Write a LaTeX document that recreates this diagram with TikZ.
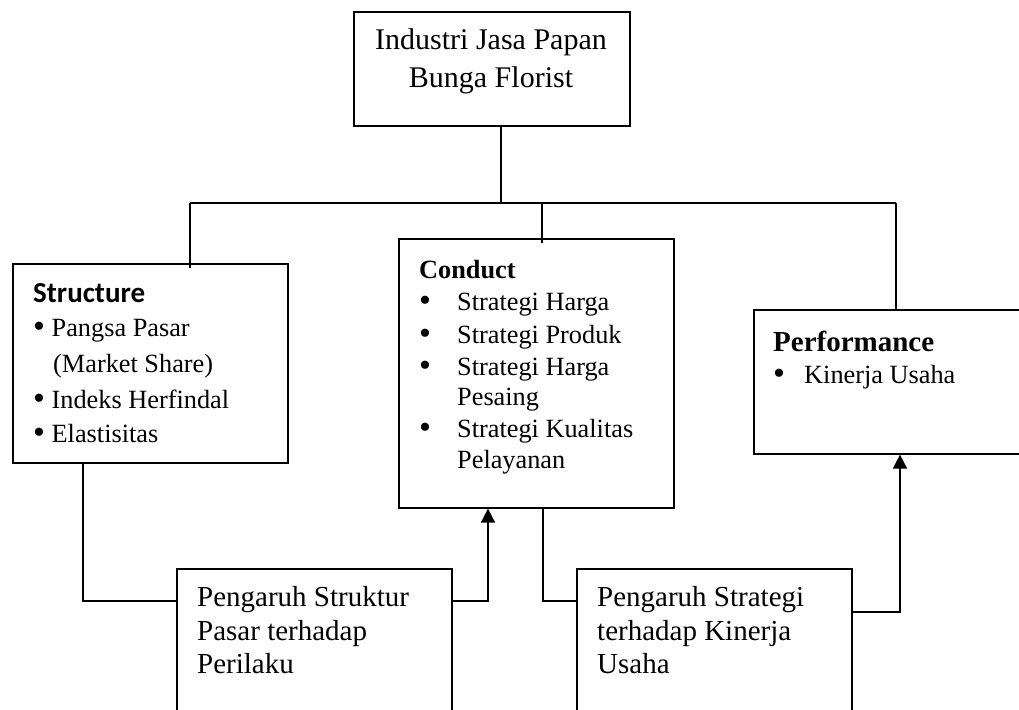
\documentclass[tikz,border=0pt]{standalone}
\usepackage{fontspec}
\setmainfont{Liberation Serif}
\newfontfamily\calfont{Carlito}
\usetikzlibrary{arrows.meta}
\newcommand{\bul}{\raisebox{-1.8pt}{\fontsize{34}{34}\selectfont •}}
\begin{document}
\begin{tikzpicture}[x=1pt,y=-1pt,
  box/.style={draw, line width=1.6pt, inner sep=0pt, anchor=north west},
  txt/.style={anchor=base west, inner sep=0pt, font=\fontsize{26.3}{30}\selectfont},
  big/.style={anchor=base west, inner sep=0pt, font=\fontsize{29}{33}\selectfont},
  conn/.style={line width=1.6pt},
  arr/.style={conn, -{Triangle[length=14pt,width=14pt]}}]
\useasboundingbox (0,0) rectangle (1019,709);
\clip (0,0) rectangle (1019,709);
\fill[white] (0,0) rectangle (1019,709);
% boxes
\node[box, minimum width=276pt, minimum height=114pt] (top) at (353,11) {};
\node[box, minimum width=275pt, minimum height=199pt] (structure) at (12,263) {};
\node[box, minimum width=275pt, minimum height=269pt] (conduct) at (398,238) {};
\node[box, minimum width=277pt, minimum height=144pt] (perf) at (753,309) {};
\node[box, minimum width=275pt, minimum height=170pt] (psp) at (176,568) {};
\node[box, minimum width=275pt, minimum height=170pt] (pst) at (576,568) {};
% top text
\node[inner sep=0pt, font=\fontsize{30}{38}\selectfont, anchor=base] (top1) at (491,49) {Industri Jasa Papan};
\node[inner sep=0pt, font=\fontsize{30}{38}\selectfont, anchor=base] (top2) at (491,87) {Bunga Florist};
% structure
\node[big, font=\calfont\bfseries\fontsize{29}{33}\selectfont] (sh) at (33,302) {Structure};
\node[txt] (s1) at (33,336) {\bul\ Pangsa Pasar};
\node[txt] (s2) at (53,372) {(Market Share)};
\node[txt] (s3) at (33,408) {\bul\ Indeks Herfindal};
\node[txt] (s4) at (33,442) {\bul\ Elastisitas};
% conduct
\node[txt, font=\bfseries\fontsize{26.3}{30}\selectfont] (ch) at (419,278) {Conduct};
\node[txt] (cb1) at (419,310) {\bul};
\node[txt] (c1) at (457,310) {Strategi Harga};
\node[txt] (cb2) at (419,343) {\bul};
\node[txt] (c2) at (457,343) {Strategi Produk};
\node[txt] (cb3) at (419,375) {\bul};
\node[txt] (c3) at (457,375) {Strategi Harga};
\node[txt] (c3b) at (457,405) {Pesaing};
\node[txt] (cb4) at (419,437) {\bul};
\node[txt] (c4) at (457,437) {Strategi Kualitas};
\node[txt] (c4b) at (457,468) {Pelayanan};
% performance
\node[big, font=\bfseries\fontsize{29}{33}\selectfont] (ph) at (773,351) {Performance};
\node[txt] (pb1) at (773,383) {\bul};
\node[txt] (p1) at (804,383) {Kinerja Usaha};
% bottom boxes text
\node[big] (l1) at (197,606) {Pengaruh Struktur};
\node[big] (l2) at (197,640) {Pasar terhadap};
\node[big] (l3) at (197,673) {Perilaku};
\node[big] (r1) at (597,606) {Pengaruh Strategi};
\node[big] (r2) at (597,640) {terhadap Kinerja};
\node[big] (r3) at (597,673) {Usaha};
% connectors
\coordinate (J) at (501,203);
\coordinate (HL) at (190,203);
\coordinate (HC) at (542,203);
\coordinate (HR) at (896,203);
\draw[conn] (J |- top.south) -- (J);
\draw[conn] (HL) -- (HR);
\draw[conn] (HL) -- ([yshift=-5pt]HL |- structure.north);
\draw[conn] (HC) -- ([yshift=-5pt]HC |- conduct.north);
\draw[conn] (HR) -- (HR |- perf.north);
\coordinate (a1) at (83,601);
\coordinate (a2) at (488,601);
\coordinate (a3) at (543,601);
\coordinate (a4) at (900,612);
\draw[conn] (a1 |- structure.south) -- (a1) -- (a1 -| psp.west);
\draw[arr] (a2 -| psp.east) -- (a2) -- (a2 |- conduct.south);
\draw[conn] (a3 |- conduct.south) -- (a3) -- (a3 -| pst.west);
\draw[arr] (a4 -| pst.east) -- (a4) -- (a4 |- perf.south);
\end{tikzpicture}
\end{document}
